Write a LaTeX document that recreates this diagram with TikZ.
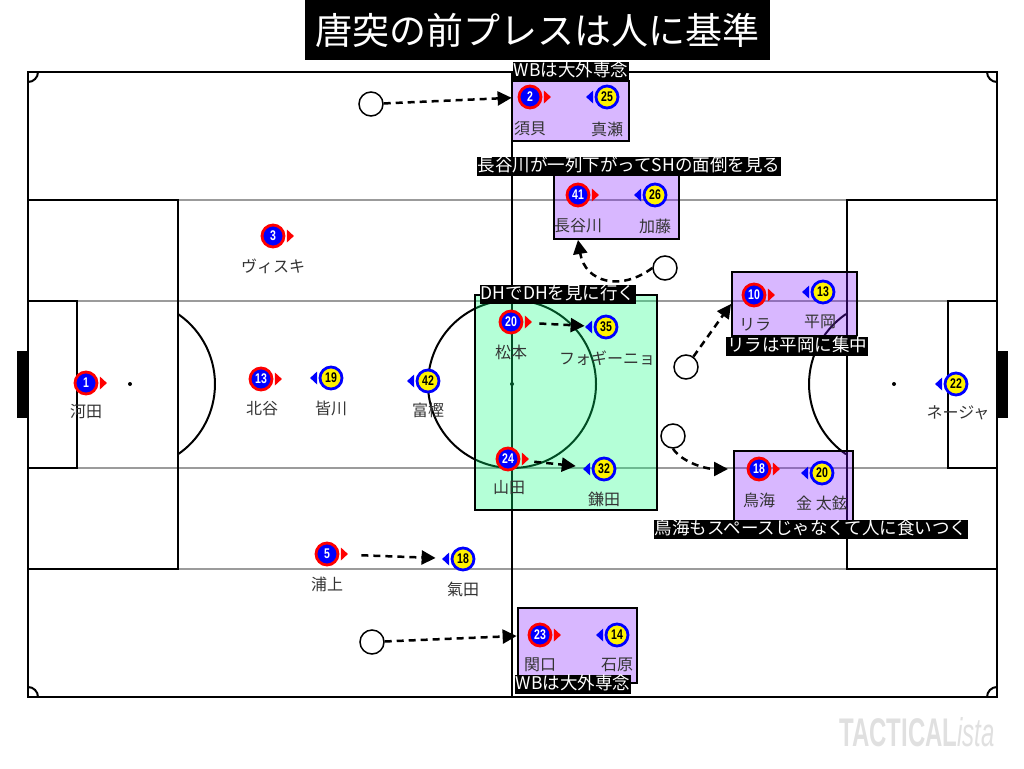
\documentclass[tikz,border=0pt]{standalone}
\usepackage{fontspec}
\setmainfont{Noto Sans CJK JP}
\newfontfamily\numfont{Liberation Sans}
\newfontfamily\wmfont{Liberation Sans}
\usetikzlibrary{arrows.meta}
\definecolor{boxpurple}{RGB}{125,18,255}
\definecolor{boxgreen}{RGB}{5,255,122}
\definecolor{pitchgray}{RGB}{155,155,155}
\newcommand\RP[4]{\node[rpl] (#1) at (#2,#3) {\scalebox{0.75}[1]{#4}};
  \fill[red] ([xshift=1.5pt]#1.east) -- ++(0,6.5) -- ++(7,-6.5) -- ++(-7,-6.5) -- cycle;}
\newcommand\YP[4]{\node[ypl] (#1) at (#2,#3) {\scalebox{0.75}[1]{#4}};
  \fill[blue] ([xshift=-1.5pt]#1.west) -- ++(0,6.5) -- ++(-7,-6.5) -- ++(7,-6.5) -- cycle;}
\begin{document}
\begin{tikzpicture}[x=1pt,y=-1pt,
  pl/.style={line width=2pt,draw=black},
  gl/.style={line width=2pt,draw=pitchgray},
  rpl/.style={circle,fill=blue,draw=red,line width=2.8pt,minimum size=22pt,inner sep=0pt,text=white,font=\numfont\bfseries\fontsize{14}{14}\selectfont},
  ypl/.style={circle,fill=yellow,draw=blue,line width=2.8pt,minimum size=22pt,inner sep=0pt,text=black,font=\numfont\bfseries\fontsize{14}{14}\selectfont},
  nm/.style={text=black!80,font=\fontsize{16}{16}\selectfont,inner sep=0pt},
  lbl/.style={fill=black,text=white,font=\fontsize{17.5}{17.5}\selectfont,inner sep=1pt,text height=14pt,text depth=3pt},
  pbox/.style={draw=black,line width=2pt,fill=boxpurple,fill opacity=0.3,inner sep=0pt},
  gbox/.style={draw=black,line width=2pt,fill=boxgreen,fill opacity=0.3,inner sep=0pt},
  ghost/.style={circle,draw=black,fill=white,line width=1.5pt,minimum size=24pt,inner sep=0pt},
  darr/.style={line width=2.5pt,dash pattern=on 7pt off 5pt,-{Triangle[length=14pt,width=14pt]}}
]
\useasboundingbox (0,0) rectangle (1024,768);
% pitch
\draw[gl] (28,200) -- (997,200);
\draw[gl] (28,569) -- (997,569);
\draw[gl] (28,301) -- (997,301);
\draw[gl] (28,468) -- (997,468);
\draw[pl] (28,72) rectangle (997,697);
\draw[pl] (512,72) -- (512,697);
\draw[pl] (512,384) circle (84pt);
\fill (512,384) circle (2pt);
\draw[pl] (28,200) rectangle (178,569);
\draw[pl] (28,301) rectangle (77,468);
\fill (17,351) rectangle (28,418);
\fill (130,384) circle (2pt);
\draw[pl] (178,314) arc[start angle=55.6,end angle=-55.6,radius=85pt];
\draw[pl] (847,200) rectangle (997,569);
\draw[pl] (948,301) rectangle (997,468);
\fill (997,351) rectangle (1008,418);
\fill (894,384) circle (2pt);
\draw[pl] (846,314) arc[start angle=124.4,end angle=235.6,radius=85pt];
\draw[pl] (38,72) arc[start angle=0,end angle=-90,radius=10pt];
\draw[pl] (987,72) arc[start angle=180,end angle=270,radius=10pt];
\draw[pl] (28,687) arc[start angle=90,end angle=0,radius=10pt];
\draw[pl] (987,697) arc[start angle=180,end angle=90,radius=10pt];
% title
\node[fill=black,text=white,font=\fontsize{37}{37}\selectfont,minimum width=465pt,minimum height=60pt,inner sep=0pt] (title) at (537.5,30) {唐突の前プレスは人に基準};
% boxes
\node[pbox,minimum width=117pt,minimum height=60pt] (box1) at (570.5,111) {};
\node[pbox,minimum width=125pt,minimum height=64pt] (box2) at (616.5,207) {};
\node[gbox,minimum width=182pt,minimum height=215pt] (box3g) at (566,402.5) {};
\node[pbox,minimum width=125pt,minimum height=64pt] (box3) at (794.5,304) {};
\node[pbox,minimum width=119pt,minimum height=71pt] (box4) at (793.5,486.5) {};
\node[pbox,minimum width=119pt,minimum height=75pt] (box5) at (577.5,645.5) {};
% empty circles
\node[ghost] (g1) at (371,104) {};
\node[ghost] (g2) at (665,268) {};
\node[ghost] (g3) at (686,367) {};
\node[ghost] (g4) at (673,436) {};
\node[ghost] (g5) at (372,642) {};
% players
\RP{p1}{86}{383}{1}
\RP{p3}{273}{236}{3}
\RP{p13}{261}{379}{13}
\YP{y19}{331}{378}{19}
\YP{y42}{428}{381}{42}
\RP{p20}{511}{322}{20}
\YP{y35}{606}{327}{35}
\RP{p24}{508}{459}{24}
\YP{y32}{604}{469}{32}
\RP{p2}{530}{97}{2}
\YP{y25}{607}{97}{25}
\RP{p41}{578}{195}{41}
\YP{y26}{655}{195}{26}
\RP{p10}{754}{295}{10}
\YP{y13}{823}{292}{13}
\RP{p18}{759}{469}{18}
\YP{y20}{822}{473}{20}
\RP{p23}{540}{635}{23}
\YP{y14}{617}{635}{14}
\RP{p5}{327}{554}{5}
\YP{y18}{463}{559}{18}
\YP{y22}{956}{384}{22}
% names
\node[nm] (n1) at (86,412) {河田};
\node[nm] (n3) at (273,266) {ヴィスキ};
\node[nm] (n13) at (262,409) {北谷};
\node[nm] (n19) at (331,408) {皆川};
\node[nm] (n42) at (428,410) {富樫};
\node[nm] (n20) at (511,352) {松本};
\node[nm] (n35) at (607,358) {フォギーニョ};
\node[nm] (n24) at (509,488) {山田};
\node[nm] (n32) at (604,499) {鎌田};
\node[nm] (n2) at (530,129) {須貝};
\node[nm] (n25) at (607,129) {真瀬};
\node[nm] (n41) at (578,226) {長谷川};
\node[nm] (n26) at (655,226) {加藤};
\node[nm] (n10) at (755,325) {リラ};
\node[nm] (n13b) at (820,322) {平岡};
\node[nm] (n18) at (759,500) {鳥海};
\node[nm] (n20b) at (822,503) {金 太鉉};
\node[nm] (n23) at (540,665) {関口};
\node[nm] (n14) at (617,665) {石原};
\node[nm] (n5) at (327,584) {浦上};
\node[nm] (n18b) at (463,589) {氣田};
\node[nm] (n22) at (958,413) {ネージャ};
% arrows
\draw[darr,shorten >=6pt] (g1) -- (p2);
\draw[darr,shorten >=11pt] (g5) -- (p23);
\draw[darr] (g2.west) .. controls (620,292) and (585,282) .. (p41 |- box2.south);
\draw[darr] (g3) -- (box3.west);
\draw[darr,shorten >=5pt] (g4.south) .. controls (682,462) and (705,469) .. (box4.west |- p18);
\draw[darr,shorten <=16pt,shorten >=9pt] (p20) -- (y35);
\draw[darr,shorten <=14pt,shorten >=16pt] (p24) -- (y32);
\draw[darr,shorten <=22pt,shorten >=15pt] (p5) -- (y18);
% labels
\node[lbl] (l1) at (571,71) {WBは大外専念};
\node[lbl] (l2) at (629,166) {長谷川が一列下がってSHの面倒を見る};
\node[lbl] (l3) at (558,294) {DHでDHを見に行く};
\node[lbl] (l4) at (797,346) {リラは平岡に集中};
\node[lbl] (l5) at (811,529) {鳥海もスペースじゃなくて人に食いつく};
\node[lbl] (l6) at (573,684) {WBは大外専念};
% watermark
\node[text=black!12,font=\wmfont\fontsize{40}{40}\selectfont,inner sep=0pt] (wm) at (917,732) {\scalebox{0.6}[1]{\bfseries TACTICAL\mdseries\itshape ista}};
\end{tikzpicture}
\end{document}
